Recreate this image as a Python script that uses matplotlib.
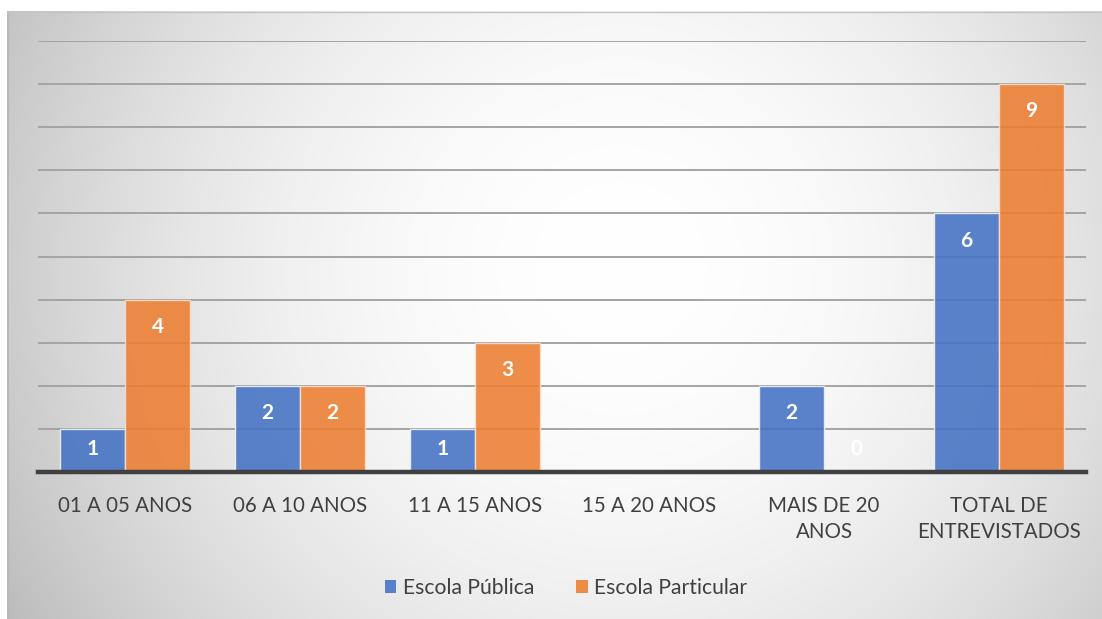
import numpy as np
import matplotlib
matplotlib.use("Agg")
import matplotlib.pyplot as plt
from matplotlib.patches import Patch

plt.rcParams['font.family'] = ['Lato', 'DejaVu Sans']

# Dados da pesquisa
categorias = ["01 A 05 ANOS", "06 A 10 ANOS", "11 A 15 ANOS", "15 A 20 ANOS",
              "MAIS DE 20\nANOS", "TOTAL DE\nENTREVISTADOS"]
escola_publica = [1, 2, 1, None, 2, 6]
escola_particular = [4, 2, 3, None, 0, 9]
series_nomes = ["Escola Pública", "Escola Particular"]

azul = '#4472C4'
laranja = '#ED7D31'

W, H = 1102, 619
fig = plt.figure(figsize=(W / 100, H / 100), dpi=100)

# fundo com degradê radial
bg = fig.add_axes([7 / W, 0, 1 - 7 / W, 1 - 11 / H])
gx, gy = np.meshgrid(np.linspace(0, 1, 400), np.linspace(0, 1, 240))
d = np.sqrt(((gx - 0.56) / 0.62) ** 2 + ((gy - 0.42) / 1.1) ** 2)
gray = 1 - 0.24 * np.clip(d, 0, 1.2) ** 2
bg.imshow(np.dstack([gray, gray, gray]), aspect='auto', extent=[0, 1, 0, 1],
          origin='upper', interpolation='bicubic')
bg.set_xlim(0, 1)
bg.set_ylim(0, 1)
bg.axis('off')
bg.axvline(0.001, color='#b8b8b8', lw=1.5)
bg.axhline(0.999, color='#c4c4c4', lw=1)
bg.set_zorder(0)

ax = fig.add_axes([38 / W, 1 - 472 / H, 1048 / W, 431 / H])
ax.set_zorder(1)
ax.patch.set_alpha(0)

x = np.arange(len(categorias))
largura = 0.372
pub = np.array([v if v is not None else np.nan for v in escola_publica], dtype=float)
par = np.array([v if v is not None else np.nan for v in escola_particular], dtype=float)

ax.bar(x - largura / 2, np.nan_to_num(pub), largura, color=azul, alpha=0.88,
       edgecolor='#f2f2f2', linewidth=1.0, zorder=3)
ax.bar(x + largura / 2, np.nan_to_num(par), largura, color=laranja, alpha=0.88,
       edgecolor='#f6e0d0', linewidth=1.0, zorder=3)

# rótulos de dados
for xs, vals in ((x - largura / 2, pub), (x + largura / 2, par)):
    for xi, v in zip(xs, vals):
        if np.isnan(v):
            continue
        yl = max(v - 0.63, 0.53)
        ax.text(xi, yl, f"{int(v)}", ha='center', va='center', color='white',
                fontsize=15, fontweight='bold', zorder=5)

ax.set_xlim(-0.5, len(categorias) - 0.5)
ax.set_ylim(0, 10)
ax.set_yticks(np.arange(1, 11))
ax.yaxis.grid(True, color='#a4a4a4', linewidth=1.4, zorder=1)
ax.tick_params(axis='y', length=0, labelleft=False)
for s in ax.spines.values():
    s.set_visible(False)
ax.axhline(0, color='#404040', linewidth=3.2, zorder=4, clip_on=False)

ax.set_xticks(x)
ax.set_xticklabels(categorias, fontsize=14.8, color='#404040', linespacing=1.4)
ax.tick_params(axis='x', length=0, pad=17)

handles = [Patch(facecolor=azul, alpha=0.88), Patch(facecolor=laranja, alpha=0.88)]
fig.legend(handles, series_nomes, loc='center', bbox_to_anchor=(566 / W, 1 - 588 / H),
           ncol=2, frameon=False, fontsize=15.2, labelcolor='#404040',
           handlelength=0.55, handleheight=0.55, handletextpad=0.3, columnspacing=2.0)

fig.savefig('out.png', dpi=100)
